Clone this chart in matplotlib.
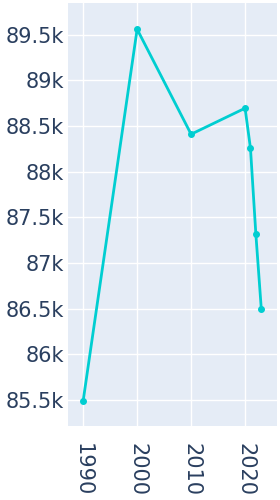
import matplotlib
matplotlib.use('Agg')
import matplotlib.pyplot as plt
from matplotlib.ticker import FuncFormatter

# Population values
years = [1990, 2000, 2010, 2020, 2021, 2022, 2023]
values = [85490, 89560, 88410, 88695, 88255, 87315, 86500]

y_ticks = [85500, 86000, 86500, 87000, 87500, 88000, 88500, 89000, 89500]
x_ticks = [1990, 2000, 2010, 2020]

fig = plt.figure(figsize=(2.8, 5), dpi=100)
ax = fig.add_axes([0.243, 0.148, 0.746, 0.846])
ax.set_facecolor('#E5ECF6')

ax.plot(years, values, color='#00CED1', linewidth=2, marker='o', markersize=4, zorder=3)

ax.set_xlim(1987.2, 2025.9)
ax.set_ylim(85215, 89847)
ax.set_xticks(x_ticks)
ax.set_yticks(y_ticks)

def fmt_k(v, pos):
    s = '%g' % (v / 1000)
    return s + 'k'

ax.yaxis.set_major_formatter(FuncFormatter(fmt_k))
ax.grid(True, color='white', linewidth=1)
ax.set_axisbelow(True)
for s in ax.spines.values():
    s.set_visible(False)

ax.tick_params(axis='both', length=0, labelsize=15, labelcolor='#2a3f5f')
ax.tick_params(axis='y', pad=3)
ax.tick_params(axis='x', pad=12)
for lbl in ax.get_xticklabels():
    lbl.set_rotation(-90)

fig.savefig('out.png', dpi=100)
